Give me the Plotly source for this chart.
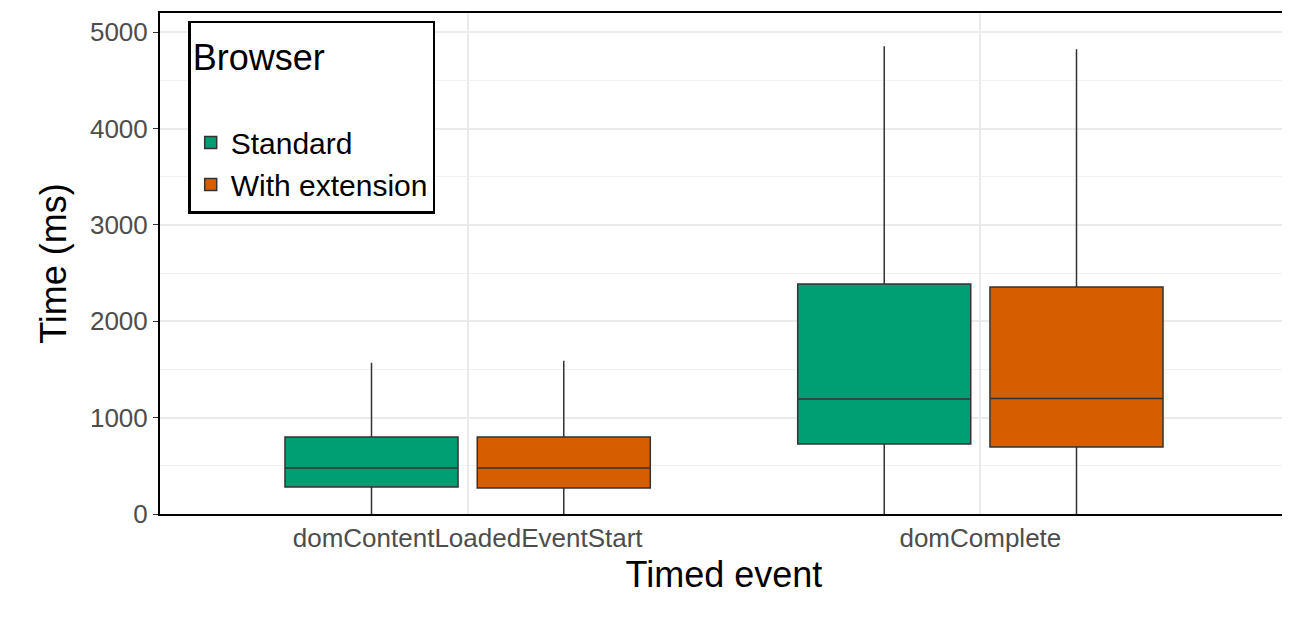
import plotly.graph_objects as go

categories = ["domContentLoadedEventStart", "domComplete"]
std_q1 = [280, 726]; std_med = [477, 1193]; std_q3 = [800, 2386]; std_lo = [0, 0]; std_hi = [1570, 4855]
ext_q1 = [270, 695]; ext_med = [477, 1200]; ext_q3 = [800, 2355]; ext_lo = [0, 0]; ext_hi = [1590, 4825]

fig = go.Figure()
for name, col, q1, med, q3, lo, hi in [
    ("Standard", "#009E73", std_q1, std_med, std_q3, std_lo, std_hi),
    ("With extension", "#D55E00", ext_q1, ext_med, ext_q3, ext_lo, ext_hi)]:
    fig.add_trace(go.Box(x=categories, q1=q1, median=med, q3=q3, lowerfence=lo, upperfence=hi,
                         name=name, fillcolor=col, line=dict(color="#333333", width=1.5),
                         whiskerwidth=0, hoverinfo="skip"))

fig.update_layout(
    width=1290, height=620, boxmode="group", boxgap=0.25, boxgroupgap=0.1,
    plot_bgcolor="white", paper_bgcolor="white",
    margin=dict(l=152, r=10, t=5, b=114, autoexpand=False),
    font=dict(family="Liberation Sans, Arial, sans-serif", color="#4d4d4d", size=26),
    legend=dict(x=0.025, y=0.985, xanchor="left", yanchor="top", bordercolor="black", borderwidth=2.5,
                bgcolor="white", font=dict(size=30, color="black"), tracegroupgap=4,
                title=dict(text="Browser<br> ", font=dict(size=36, color="black"))),
    xaxis=dict(title=dict(text="Timed event", font=dict(size=36, color="black"), standoff=10),
               showline=True, linecolor="black", linewidth=2, mirror=True, automargin=False,
               showgrid=True, gridcolor="#EBEBEB", gridwidth=2, ticks="", range=[-0.6, 1.6]),
    yaxis=dict(title=dict(text="Time (ms)", font=dict(size=36, color="black"), standoff=12),
               range=[0, 5200], tickvals=[0, 1000, 2000, 3000, 4000, 5000], automargin=False,
               showline=True, linecolor="black", linewidth=2, mirror=True,
               showgrid=True, gridcolor="#EBEBEB", gridwidth=2, zeroline=False,
               ticks="outside", ticklen=5, tickcolor="#333333",
               minor=dict(dtick=500, tick0=500, showgrid=True, gridcolor="#F2F2F2", gridwidth=1)),
)
fig.write_html("out.html")
